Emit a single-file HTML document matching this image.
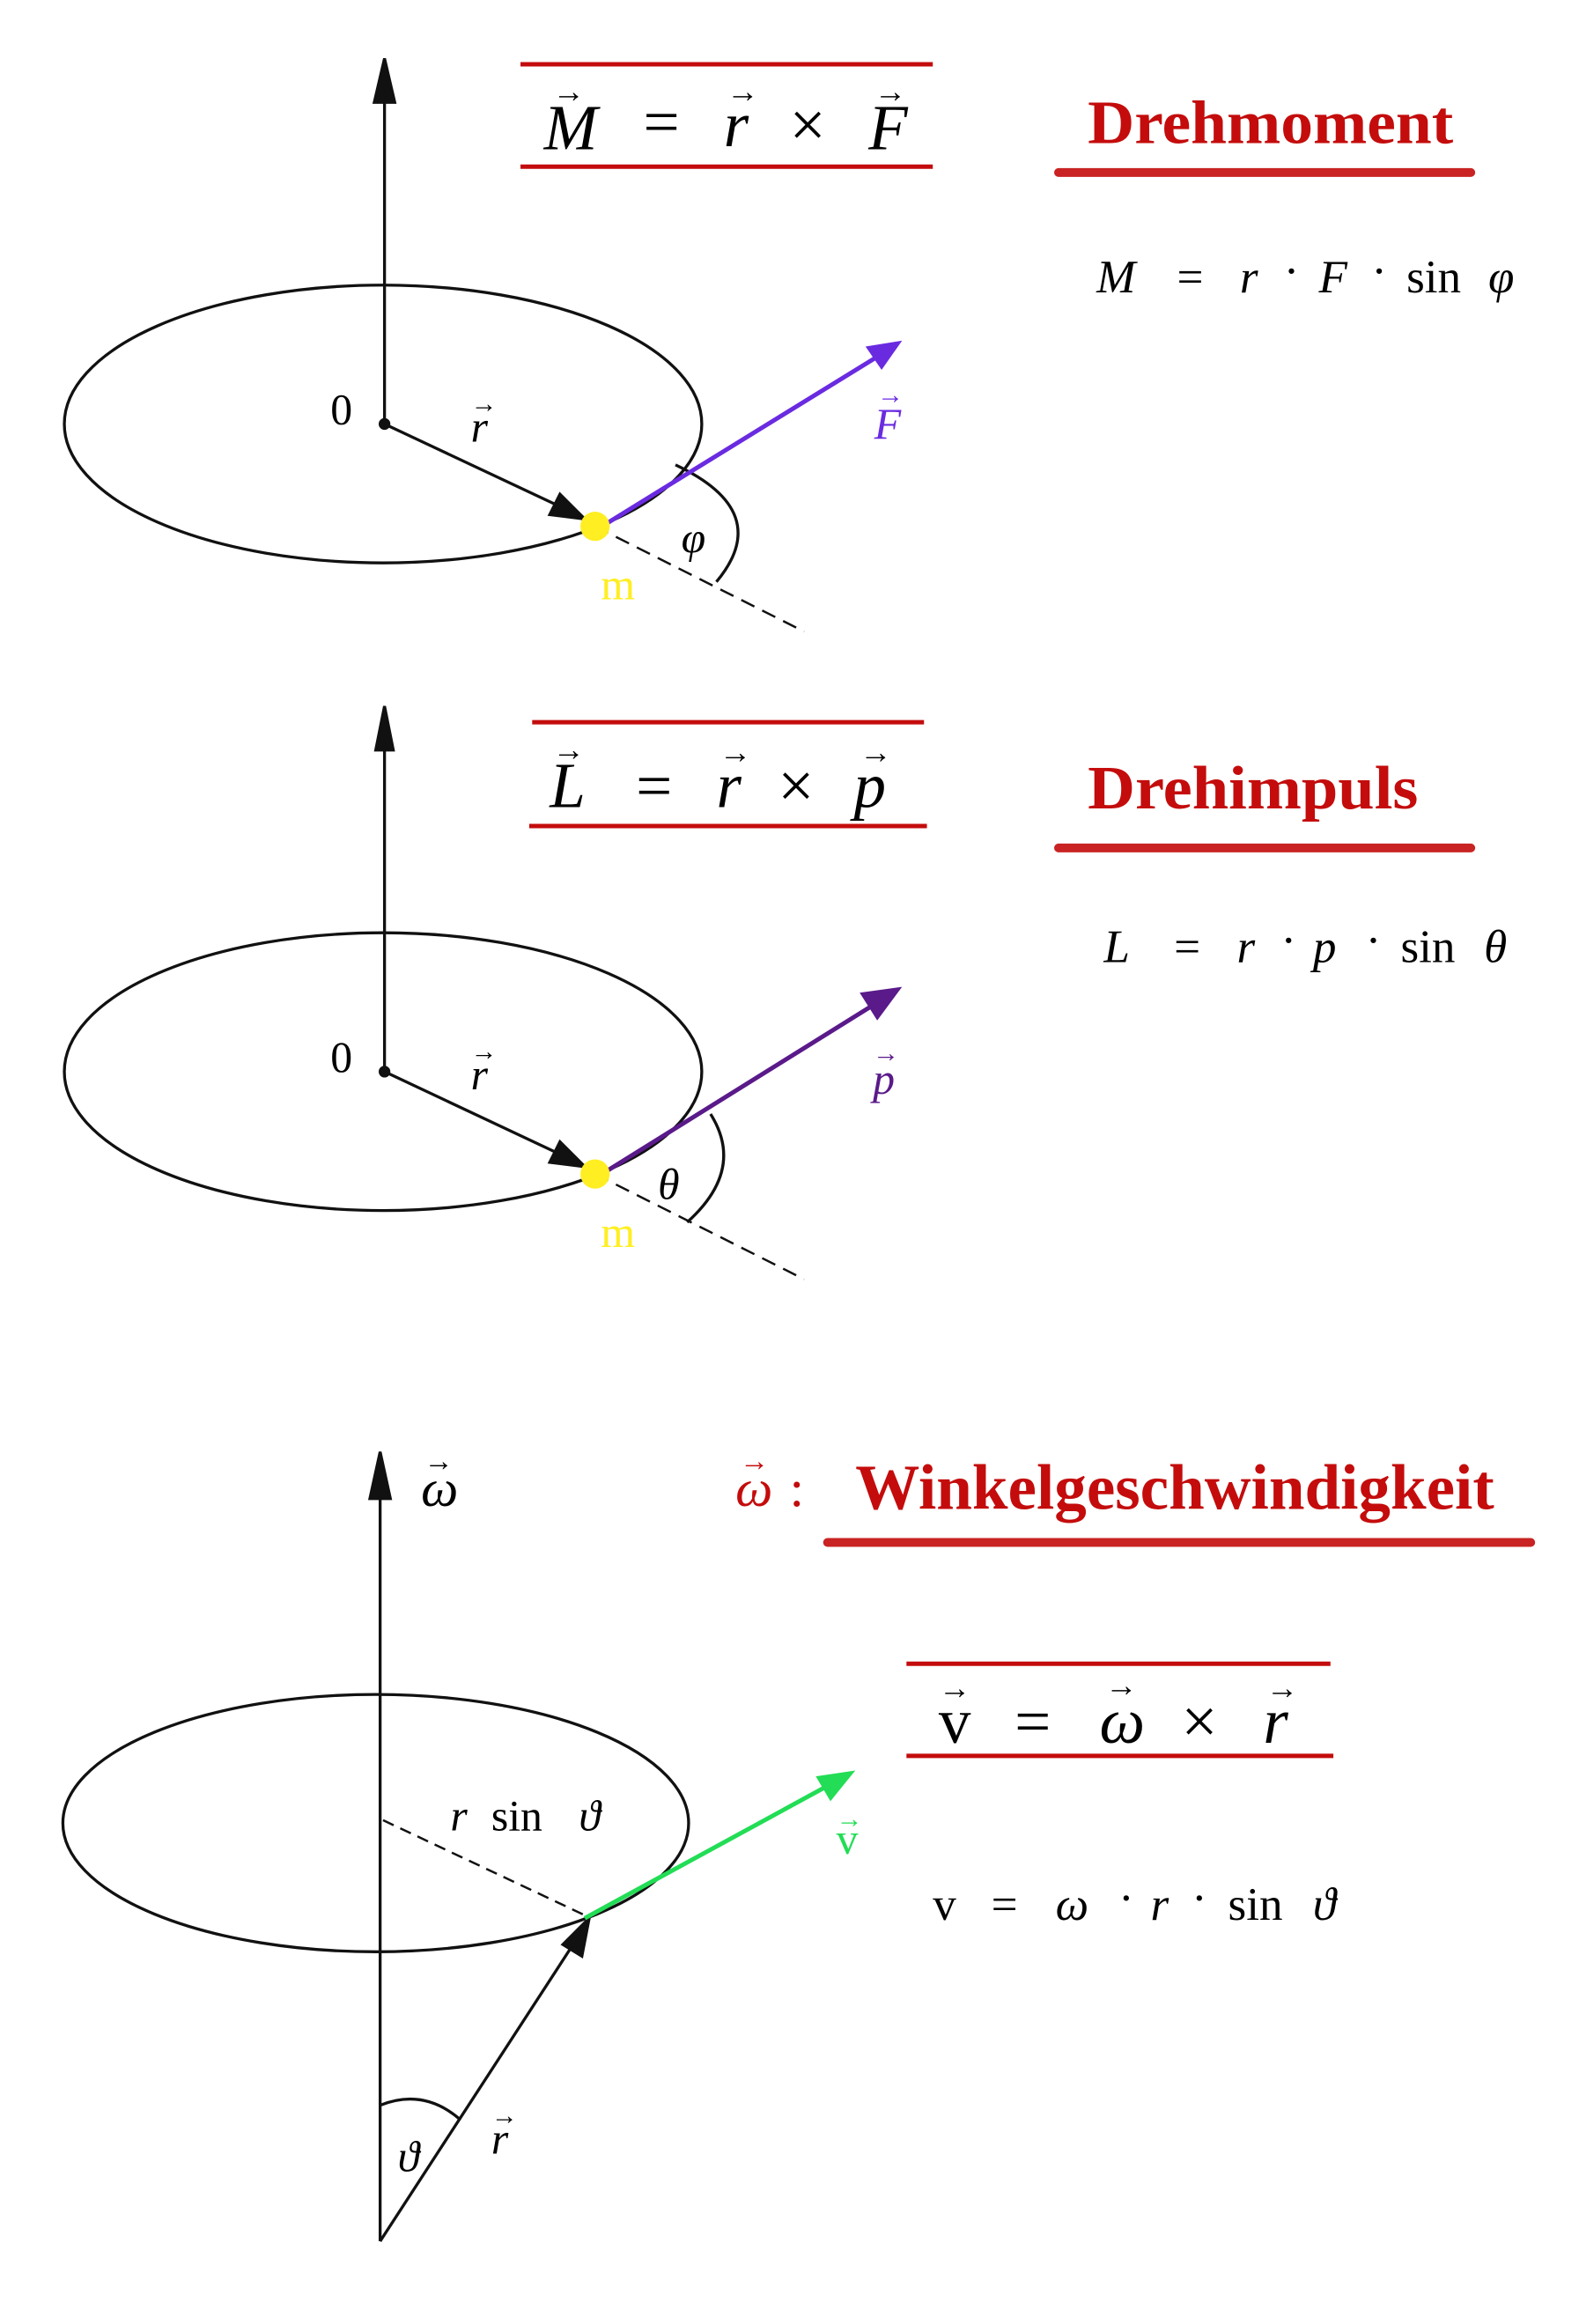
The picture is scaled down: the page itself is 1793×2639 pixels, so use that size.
<!DOCTYPE html>
<html><head><meta charset="utf-8"><style>
html,body{margin:0;padding:0;background:#fff}
svg{display:block}
text{font-family:"Liberation Serif",serif}
.it{font-style:italic}
.red{fill:#c40c0c;font-weight:bold}
</style></head><body>
<svg width="1793" height="2639" viewBox="0 0 1080 1589.6" preserveAspectRatio="none" xmlns="http://www.w3.org/2000/svg">
<g fill="none" stroke="#111" stroke-width="2">
<ellipse cx="262" cy="290" rx="218" ry="95"/>
<line x1="263" y1="290" x2="263" y2="60"/>
<path d="M263,40 L256,70 L270,70 Z" fill="#111"/>
<line x1="263" y1="290" x2="382" y2="346"/>
<path d="M400,355 L376,352 L383,338 Z" fill="#111"/>
<line x1="407" y1="360" x2="550" y2="432" stroke-dasharray="10,6" stroke-width="1.5"/>
<path d="M462,318 Q530,350 490,398" stroke-width="2"/>
<ellipse cx="262" cy="733" rx="218" ry="95"/>
<line x1="263" y1="733" x2="263" y2="505"/>
<path d="M263,483 L257,513 L269,513 Z" fill="#111"/>
<line x1="263" y1="733" x2="382" y2="789"/>
<path d="M400,798 L376,795 L383,781 Z" fill="#111"/>
<line x1="407" y1="803" x2="550" y2="875" stroke-dasharray="10,6" stroke-width="1.5"/>
<path d="M486,762 Q510,800 470,836" stroke-width="2"/>
<ellipse cx="257" cy="1247" rx="214" ry="88"/>
<line x1="260" y1="1533" x2="260" y2="1015"/>
<path d="M260,993 L253,1025 L267,1025 Z" fill="#111"/>
<line x1="262" y1="1245" x2="400" y2="1310" stroke-dasharray="8,5" stroke-width="1.5"/>
<line x1="260" y1="1533" x2="392" y2="1330"/>
<path d="M403,1312 L398,1338 L385,1330 Z" fill="#111"/>
<path d="M260,1440 Q290,1428 315,1450" stroke-width="2"/>
</g>
<line x1="415" y1="358" x2="600" y2="244" stroke="#6a2be0" stroke-width="3"/>
<path d="M617,233 L592,237 L603,253 Z" fill="#6a2be0"/>
<line x1="415" y1="801" x2="598" y2="687" stroke="#5a1a8a" stroke-width="3"/>
<path d="M617,675 L588,679 L600,698 Z" fill="#5a1a8a"/>
<line x1="400" y1="1312" x2="567" y2="1221" stroke="#22dd55" stroke-width="3"/>
<path d="M585,1211 L558,1215 L568,1232 Z" fill="#22dd55"/>
<circle cx="407" cy="360" r="10" fill="#ffee22"/>
<circle cx="407" cy="803" r="10" fill="#ffee22"/>
<circle cx="263" cy="290" r="4" fill="#111"/>
<circle cx="263" cy="733" r="4" fill="#111"/>

<g font-size="30">
<text x="226" y="290">0</text>
<text x="226" y="733">0</text>
<text x="322" y="302" class="it">r</text><text x="322" y="282" font-size="18">→</text>
<text x="322" y="745" class="it">r</text><text x="322" y="725" font-size="18">→</text>
<text x="598" y="300" class="it" fill="#6a2be0">F</text><text x="600" y="276" font-size="18" fill="#6a2be0">→</text>
<text x="597" y="748" class="it" fill="#5a1a8a">p</text><text x="597" y="726" font-size="18" fill="#5a1a8a">→</text>
<text x="466" y="378" class="it">φ</text>
<text x="450" y="820" class="it">θ</text>
<text x="411" y="410" fill="#ffee22">m</text>
<text x="411" y="853" fill="#ffee22">m</text>
<text x="288" y="1030" class="it" font-size="36">ω</text><text x="290" y="1006" font-size="20">→</text>
<text x="308" y="1252" class="it">r</text><text x="336" y="1252">sin</text><text x="396" y="1252" class="it">ϑ</text>
<text x="572" y="1268" fill="#22dd55">v</text><text x="572" y="1250" font-size="18" fill="#22dd55">→</text>
<text x="272" y="1485" class="it">ϑ</text>
<text x="336" y="1473" class="it">r</text><text x="336" y="1453" font-size="18">→</text>
</g>

<g stroke="#c40c0c" stroke-width="3">
<line x1="356" y1="44" x2="638" y2="44"/><line x1="356" y1="114" x2="638" y2="114"/>
<line x1="364" y1="494" x2="632" y2="494"/><line x1="362" y1="565" x2="634" y2="565"/>
<line x1="620" y1="1138" x2="910" y2="1138"/><line x1="620" y1="1201" x2="912" y2="1201"/>
</g>
<g stroke="#c40c0c" stroke-width="6" stroke-linecap="round" opacity="0.9">
<line x1="724" y1="118" x2="1006" y2="118"/>
<line x1="724" y1="580" x2="1006" y2="580"/>
<line x1="566" y1="1055" x2="1047" y2="1055"/>
</g>
<g font-size="44">
<text x="372" y="102" class="it">M</text><text x="378" y="70" font-size="22">→</text>
<text x="440" y="98">=</text>
<text x="495" y="100" class="it">r</text><text x="497" y="70" font-size="22">→</text>
<text x="540" y="100">×</text>
<text x="594" y="102" class="it">F</text><text x="598" y="70" font-size="22">→</text>

<text x="376" y="552" class="it">L</text><text x="378" y="520" font-size="22">→</text>
<text x="435" y="552">=</text>
<text x="490" y="552" class="it">r</text><text x="492" y="522" font-size="22">→</text>
<text x="532" y="552">×</text>
<text x="584" y="552" class="it">p</text><text x="588" y="522" font-size="22">→</text>

<text x="642" y="1192">v</text><text x="642" y="1162" font-size="22">→</text>
<text x="694" y="1192">=</text>
<text x="752" y="1192" class="it">ω</text><text x="756" y="1160" font-size="22">→</text>
<text x="808" y="1192">×</text>
<text x="864" y="1192" class="it">r</text><text x="866" y="1162" font-size="22">→</text>
</g>
<text x="744" y="98" font-size="42" class="red" textLength="250" lengthAdjust="spacingAndGlyphs">Drehmoment</text>
<text x="744" y="553" font-size="42" class="red" textLength="226" lengthAdjust="spacingAndGlyphs">Drehimpuls</text>
<text x="503" y="1030" font-size="36" class="it" fill="#c40c0c">ω</text><text x="506" y="1006" font-size="20" fill="#c40c0c">→</text>
<text x="540" y="1030" font-size="36" fill="#c40c0c">:</text>
<text x="585" y="1032" font-size="44" class="red" textLength="437" lengthAdjust="spacingAndGlyphs">Winkelgeschwindigkeit</text>

<g font-size="32">
<text x="750" y="200" class="it">M</text><text x="805" y="200">=</text><text x="848" y="200" class="it">r</text><text x="878" y="196">·</text><text x="902" y="200" class="it">F</text><text x="938" y="196">·</text><text x="962" y="200">sin</text><text x="1018" y="200" class="it">φ</text>
<text x="755" y="658" class="it">L</text><text x="803" y="658">=</text><text x="846" y="658" class="it">r</text><text x="876" y="654">·</text><text x="898" y="658" class="it">p</text><text x="934" y="654">·</text><text x="958" y="658">sin</text><text x="1015" y="658" class="it">θ</text>
<text x="638" y="1313">v</text><text x="678" y="1313">=</text><text x="722" y="1313" class="it">ω</text><text x="765" y="1309">·</text><text x="787" y="1313" class="it">r</text><text x="815" y="1309">·</text><text x="840" y="1313">sin</text><text x="898" y="1313" class="it">ϑ</text>
</g>
</svg>
</body></html>
